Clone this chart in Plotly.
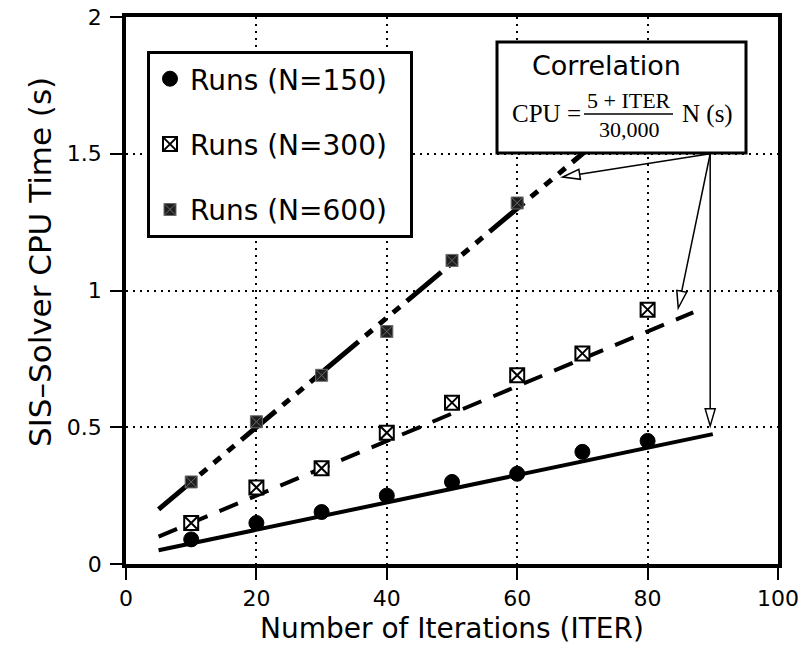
import math
import plotly.graph_objects as go

# ---------------- data ----------------
iters_150 = [10, 20, 30, 40, 50, 60, 70, 80]
cpu_150 = [0.09, 0.15, 0.19, 0.25, 0.30, 0.33, 0.41, 0.45]

iters_300 = [10, 20, 30, 40, 50, 60, 70, 80]
cpu_300 = [0.15, 0.28, 0.35, 0.48, 0.59, 0.69, 0.77, 0.93]

iters_600 = [10, 20, 30, 40, 50, 60]
cpu_600 = [0.30, 0.52, 0.69, 0.85, 1.11, 1.32]

# correlation lines (end points)
corr_x_150 = [5, 90]
corr_y_150 = [0.05, 0.475]
corr_x_300 = [5, 87]
corr_y_300 = [0.10, 0.92]
corr_x_600 = [5, 72]
corr_y_600 = [0.20, 1.54]

# arrows: common start, three tips
arrow_start = [89.6, 1.50]
arrow_tips_x = [67.0, 84.7, 89.6]
arrow_tips_y = [1.415, 0.936, 0.505]

x_ticks = [0, 20, 40, 60, 80, 100]
x_ticktext = ["0", "20", "40", "60", "80", "100"]
y_ticks = [0, 0.5, 1, 1.5, 2]
y_ticktext = ["0", "0.5", "1", "1.5", "2"]

legend_names = ["Runs (N=150)", "Runs (N=300)", "Runs (N=600)"]

# ---------------- geometry ----------------
W, H = 799, 651
PL, PR, PT, PB = 126, 778, 17, 564
XMAX, YMAX = 100.0, 2.0
SX = (PR - PL) / XMAX
SY = (PB - PT) / YMAX

SANS = "DejaVu Sans"
SERIF = "Liberation Serif"


def paper_x(px):
    return (px - PL) / (PR - PL)


def paper_y(py):
    return (PB - py) / (PB - PT)


def to_px(x, y):
    return PL + x * SX, PB - y * SY


def to_data(px, py):
    return (px - PL) / SX, (PB - py) / SY


fig = go.Figure()

# correlation lines
fig.add_trace(go.Scatter(x=corr_x_150, y=corr_y_150, mode="lines",
                         line=dict(color="black", width=4),
                         showlegend=False, hoverinfo="skip"))
fig.add_trace(go.Scatter(x=corr_x_300, y=corr_y_300, mode="lines",
                         line=dict(color="black", width=4, dash="20px,13px"),
                         showlegend=False, hoverinfo="skip"))
fig.add_trace(go.Scatter(x=corr_x_600, y=corr_y_600, mode="lines",
                         line=dict(color="black", width=5,
                                   dash="45px,9px,9px,9px,9px,9px,9px,9px"),
                         showlegend=False, hoverinfo="skip"))

# measured runs
fig.add_trace(go.Scatter(x=iters_150, y=cpu_150, mode="markers",
                         name=legend_names[0] + "\u00a0\u00a0",
                         legendgroup="a",
                         marker=dict(symbol="circle", size=15, color="black",
                                     line=dict(color="black", width=1))))
fig.add_trace(go.Scatter(x=iters_300, y=cpu_300, mode="markers",
                         name=legend_names[1] + "\u00a0\u00a0",
                         legendgroup="b",
                         marker=dict(symbol="square-x", size=14, color="white",
                                     line=dict(color="black", width=2))))
fig.add_trace(go.Scatter(x=iters_600, y=cpu_600, mode="markers",
                         name=legend_names[2] + "\u00a0\u00a0",
                         legendgroup="c",
                         marker=dict(symbol="square-x", size=12, color="#1e1e1e",
                                     line=dict(color="#6a6a6a", width=1))))

shapes = []
# correlation box
shapes.append(dict(type="rect", xref="paper", yref="paper",
                   x0=paper_x(497), x1=paper_x(746), y0=paper_y(153), y1=paper_y(42),
                   line=dict(color="black", width=3), fillcolor="white", layer="above"))
# fraction bar
shapes.append(dict(type="line", xref="paper", yref="paper",
                   x0=paper_x(584), x1=paper_x(673), y0=paper_y(114), y1=paper_y(114),
                   line=dict(color="black", width=1.5), layer="above"))

# arrows with open triangular heads
sx_px, sy_px = to_px(arrow_start[0], arrow_start[1])
for tx_d, ty_d in zip(arrow_tips_x, arrow_tips_y):
    tx, ty = to_px(tx_d, ty_d)
    dx, dy = tx - sx_px, ty - sy_px
    ln = math.hypot(dx, dy)
    ux, uy = dx / ln, dy / ln
    hl, hw = 17.0, 10.0
    bx, by = tx - ux * hl, ty - uy * hl
    nx, ny = -uy, ux
    p1 = to_data(bx + nx * hw / 2, by + ny * hw / 2)
    p2 = to_data(bx - nx * hw / 2, by - ny * hw / 2)
    bd = to_data(bx, by)
    shapes.append(dict(type="line", xref="x", yref="y",
                       x0=arrow_start[0], y0=arrow_start[1], x1=bd[0], y1=bd[1],
                       line=dict(color="black", width=1.5), layer="above"))
    path = "M {:.4f},{:.4f} L {:.4f},{:.4f} L {:.4f},{:.4f} Z".format(
        tx_d, ty_d, p1[0], p1[1], p2[0], p2[1])
    shapes.append(dict(type="path", xref="x", yref="y", path=path,
                       line=dict(color="black", width=1.5), fillcolor="white",
                       layer="above"))

annotations = []
annotations.append(dict(text="Correlation", xref="paper", yref="paper",
                        x=paper_x(606), y=paper_y(65), xanchor="center", yanchor="middle",
                        showarrow=False, font=dict(family=SANS, size=27, color="black")))
annotations.append(dict(text="CPU =", xref="paper", yref="paper",
                        x=paper_x(546), y=paper_y(114), xanchor="center", yanchor="middle",
                        showarrow=False, font=dict(family=SERIF, size=25, color="black")))
annotations.append(dict(text="5 + ITER", xref="paper", yref="paper",
                        x=paper_x(629), y=paper_y(100), xanchor="center", yanchor="middle",
                        showarrow=False, font=dict(family=SERIF, size=22, color="black")))
annotations.append(dict(text="30,000", xref="paper", yref="paper",
                        x=paper_x(629), y=paper_y(129), xanchor="center", yanchor="middle",
                        showarrow=False, font=dict(family=SERIF, size=22, color="black")))
annotations.append(dict(text="N (s)", xref="paper", yref="paper",
                        x=paper_x(707), y=paper_y(114), xanchor="center", yanchor="middle",
                        showarrow=False, font=dict(family=SERIF, size=25, color="black")))
# y-axis title
annotations.append(dict(text="SIS\u2013Solver CPU Time (s)", xref="paper", yref="paper",
                        x=paper_x(40), y=paper_y(262), xanchor="center", yanchor="middle",
                        textangle=-90, showarrow=False,
                        font=dict(family=SANS, size=31, color="black")))

axis_common = dict(
    showline=True, linecolor="black", linewidth=3.5, mirror=True,
    ticks="outside", ticklen=12, tickwidth=2, tickcolor="black",
    showgrid=True, gridcolor="black", gridwidth=2, griddash="2px,5px",
    zeroline=False, tickfont=dict(family=SANS, size=22, color="black"),
    automargin=False,
)

fig.update_layout(
    width=W, height=H,
    margin=dict(l=PL, r=W - PR, t=PT, b=H - PB, pad=0),
    paper_bgcolor="white", plot_bgcolor="white",
    font=dict(family=SANS, color="black"),
    xaxis=dict(range=[0, XMAX], tickvals=x_ticks, ticktext=x_ticktext,
               title=dict(text="Number of Iterations (ITER)",
                          font=dict(family=SANS, size=28, color="black"), standoff=9),
               **axis_common),
    yaxis=dict(range=[0, YMAX], tickvals=y_ticks, ticktext=y_ticktext,
               ticklabelstandoff=4, **axis_common),
    legend=dict(x=paper_x(147), y=paper_y(51), xanchor="left", yanchor="top",
                bgcolor="white", bordercolor="black", borderwidth=3,
                font=dict(family=SANS, size=28, color="black"),
                traceorder="grouped", tracegroupgap=26, itemwidth=30),
    shapes=shapes,
    annotations=annotations,
    showlegend=True,
)

fig.write_html("out.html")
